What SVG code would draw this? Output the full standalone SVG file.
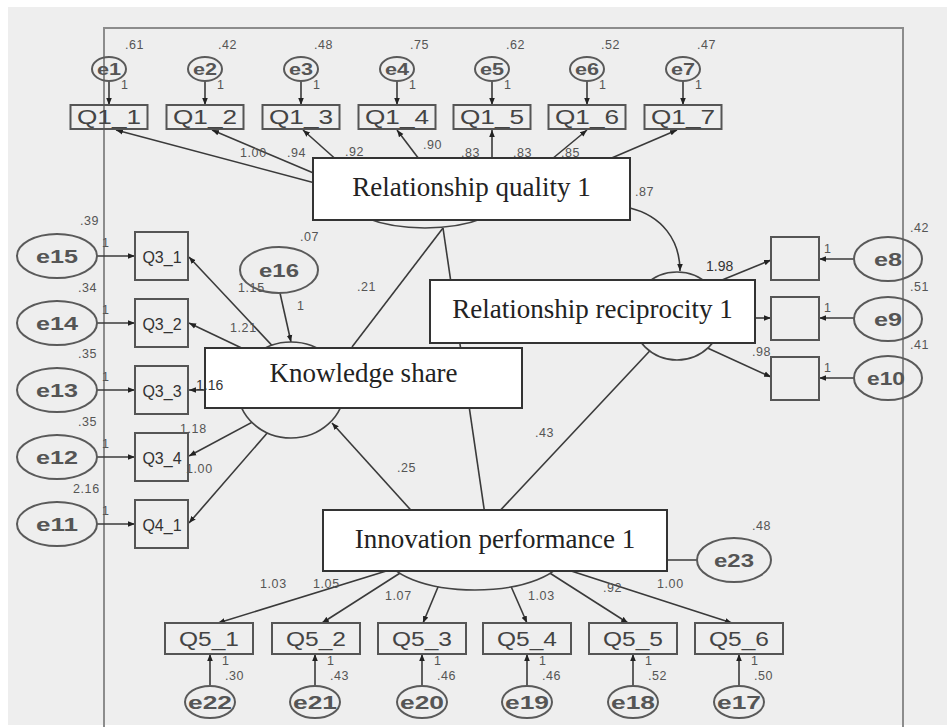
<svg xmlns="http://www.w3.org/2000/svg" width="947" height="727" viewBox="0 0 947 727">
<style>
.ln{stroke:#3a3a3a;stroke-width:1.6;fill:none}
.ar{stroke:#3a3a3a;stroke-width:1.6;fill:none;marker-end:url(#ah)}
.obs{fill:none;stroke:#555;stroke-width:2}
.err{fill:none;stroke:#5a5a5a;stroke-width:2}
.lat{fill:#eeeeee;stroke:#444;stroke-width:1.6}
.lbl{fill:#fff;stroke:#333;stroke-width:2}
.big{font-family:"Liberation Serif","Times New Roman",serif;font-size:27px;fill:#222;text-anchor:middle}
.qt{font-family:"Liberation Sans",Arial,sans-serif;font-size:20px;fill:#444;text-anchor:middle}
.qs{font-family:"Liberation Sans",Arial,sans-serif;font-size:16px;fill:#333;text-anchor:middle}
.et{font-family:"Liberation Sans",Arial,sans-serif;font-weight:bold;fill:#555;text-anchor:middle}
.n{font-family:"Liberation Sans",Arial,sans-serif;font-size:12.5px;fill:#555;letter-spacing:0.6px}
.d{font-family:"Liberation Sans",Arial,sans-serif;font-size:14px;fill:#333}
</style>
<defs>
<marker id="ah" viewBox="0 0 10 10" refX="10" refY="5" markerWidth="7" markerHeight="7" markerUnits="userSpaceOnUse" orient="auto">
<path d="M0,1 L10,5 L0,9 z" fill="#222"/>
</marker>
</defs>
<rect x="0" y="0" width="947" height="727" fill="#ffffff"/>
<rect x="8" y="7" width="939" height="718" fill="#eeeeee"/>
<path d="M104 727 V28 H903 V727" fill="none" stroke="#8c8c8c" stroke-width="2"/>

<g id="connectors">
<line class="ar" x1="109" y1="81" x2="109" y2="105"/>
<line class="ar" x1="205" y1="81" x2="205" y2="105"/>
<line class="ar" x1="301" y1="81" x2="301" y2="105"/>
<line class="ar" x1="397" y1="81" x2="397" y2="105"/>
<line class="ar" x1="492" y1="81" x2="492" y2="105"/>
<line class="ar" x1="587" y1="81" x2="587" y2="105"/>
<line class="ar" x1="683" y1="81" x2="683" y2="105"/>
<line class="ar" x1="330" y1="187" x2="116" y2="130"/>
<line class="ar" x1="330" y1="180" x2="212" y2="130"/>
<line class="ar" x1="340" y1="163" x2="303" y2="130"/>
<line class="ar" x1="422" y1="163" x2="397" y2="130"/>
<line class="ar" x1="492" y1="165" x2="492" y2="130"/>
<line class="ar" x1="546" y1="164" x2="587" y2="130"/>
<line class="ar" x1="600" y1="163" x2="677" y2="130"/>
<path class="ar" d="M630 208 C662 216 680 240 680 271"/>
<line class="ln" x1="443" y1="228" x2="352" y2="347"/>
<line class="ln" x1="443" y1="228" x2="485" y2="515"/>
<line class="ln" x1="660" y1="340" x2="495" y2="516"/>
<line class="ar" x1="418" y1="518" x2="332" y2="423"/>
<line class="ar" x1="280" y1="293" x2="291" y2="342"/>
<line class="ar" x1="280" y1="354" x2="189" y2="257"/>
<line class="ar" x1="250" y1="352" x2="189" y2="323"/>
<line class="ar" x1="215" y1="390" x2="189" y2="390"/>
<line class="ar" x1="260" y1="418" x2="189" y2="456"/>
<line class="ar" x1="275" y1="424" x2="189" y2="523"/>
<line class="ar" x1="97" y1="256" x2="135" y2="256"/>
<line class="ar" x1="97" y1="323" x2="135" y2="323"/>
<line class="ar" x1="97" y1="390" x2="135" y2="390"/>
<line class="ar" x1="97" y1="457" x2="135" y2="457"/>
<line class="ar" x1="97" y1="524" x2="135" y2="524"/>
<line class="ar" x1="700" y1="289" x2="771" y2="260"/>
<line class="ar" x1="740" y1="318" x2="771" y2="318"/>
<line class="ar" x1="690" y1="340" x2="771" y2="377"/>
<line class="ar" x1="854" y1="259" x2="819" y2="259"/>
<line class="ar" x1="854" y1="318" x2="819" y2="318"/>
<line class="ar" x1="854" y1="378" x2="819" y2="378"/>
<line class="ln" x1="660" y1="560" x2="697" y2="560"/>
<line class="ar" x1="396" y1="568" x2="218" y2="623"/>
<line class="ar" x1="408" y1="568" x2="322" y2="623"/>
<line class="ar" x1="443" y1="575" x2="423" y2="623"/>
<line class="ar" x1="506" y1="575" x2="527" y2="623"/>
<line class="ar" x1="545" y1="570" x2="628" y2="623"/>
<line class="ar" x1="565" y1="569" x2="732" y2="623"/>
<line class="ar" x1="210" y1="686" x2="210" y2="654"/>
<line class="ar" x1="315" y1="686" x2="315" y2="654"/>
<line class="ar" x1="422" y1="686" x2="422" y2="654"/>
<line class="ar" x1="527" y1="686" x2="527" y2="654"/>
<line class="ar" x1="633" y1="686" x2="633" y2="654"/>
<line class="ar" x1="739" y1="686" x2="739" y2="654"/>
</g>

<g id="e1"><ellipse class="err" cx="109" cy="69" rx="17" ry="12"/><text class="et" x="109" y="75" font-size="16" textLength="24" lengthAdjust="spacingAndGlyphs">e1</text></g>
<g id="e2"><ellipse class="err" cx="205" cy="69" rx="17" ry="12"/><text class="et" x="205" y="75" font-size="16" textLength="24" lengthAdjust="spacingAndGlyphs">e2</text></g>
<g id="e3"><ellipse class="err" cx="301" cy="69" rx="17" ry="12"/><text class="et" x="301" y="75" font-size="16" textLength="24" lengthAdjust="spacingAndGlyphs">e3</text></g>
<g id="e4"><ellipse class="err" cx="397" cy="69" rx="17" ry="12"/><text class="et" x="397" y="75" font-size="16" textLength="24" lengthAdjust="spacingAndGlyphs">e4</text></g>
<g id="e5"><ellipse class="err" cx="492" cy="69" rx="17" ry="12"/><text class="et" x="492" y="75" font-size="16" textLength="24" lengthAdjust="spacingAndGlyphs">e5</text></g>
<g id="e6"><ellipse class="err" cx="587" cy="69" rx="17" ry="12"/><text class="et" x="587" y="75" font-size="16" textLength="24" lengthAdjust="spacingAndGlyphs">e6</text></g>
<g id="e7"><ellipse class="err" cx="683" cy="69" rx="17" ry="12"/><text class="et" x="683" y="75" font-size="16" textLength="24" lengthAdjust="spacingAndGlyphs">e7</text></g>

<g id="Q1_1"><rect class="obs" x="70.5" y="105" width="77" height="24"/><text class="qt" x="109" y="124" textLength="64" lengthAdjust="spacingAndGlyphs">Q1_1</text></g>
<g id="Q1_2"><rect class="obs" x="166.5" y="105" width="77" height="24"/><text class="qt" x="205" y="124" textLength="64" lengthAdjust="spacingAndGlyphs">Q1_2</text></g>
<g id="Q1_3"><rect class="obs" x="262.5" y="105" width="77" height="24"/><text class="qt" x="301" y="124" textLength="64" lengthAdjust="spacingAndGlyphs">Q1_3</text></g>
<g id="Q1_4"><rect class="obs" x="358.5" y="105" width="77" height="24"/><text class="qt" x="397" y="124" textLength="64" lengthAdjust="spacingAndGlyphs">Q1_4</text></g>
<g id="Q1_5"><rect class="obs" x="453.5" y="105" width="77" height="24"/><text class="qt" x="492" y="124" textLength="64" lengthAdjust="spacingAndGlyphs">Q1_5</text></g>
<g id="Q1_6"><rect class="obs" x="548.5" y="105" width="77" height="24"/><text class="qt" x="587" y="124" textLength="64" lengthAdjust="spacingAndGlyphs">Q1_6</text></g>
<g id="Q1_7"><rect class="obs" x="644.5" y="105" width="77" height="24"/><text class="qt" x="683" y="124" textLength="64" lengthAdjust="spacingAndGlyphs">Q1_7</text></g>

<g id="RQ1"><ellipse class="lat" cx="425" cy="195" rx="82" ry="33"/><rect class="lbl" x="313" y="158" width="317" height="62"/><text class="big" x="471.5" y="196">Relationship quality 1</text></g>
<g id="RR1"><ellipse class="lat" cx="677" cy="316" rx="45" ry="44"/><rect class="lbl" x="430" y="280" width="325" height="63"/><text class="big" x="592.5" y="318">Relationship reciprocity 1</text></g>
<g id="e16"><ellipse class="err" cx="279" cy="270" rx="39" ry="23"/><text class="et" x="279" y="277" font-size="18" textLength="40" lengthAdjust="spacingAndGlyphs">e16</text></g>
<g id="KS"><ellipse class="lat" cx="291" cy="390" rx="53" ry="48"/><rect class="lbl" x="205" y="348" width="317" height="60"/><text class="big" x="363.5" y="382">Knowledge share</text></g>
<g id="IP1"><ellipse class="lat" cx="475" cy="555" rx="88" ry="35"/><rect class="lbl" x="323" y="510" width="344" height="61"/><text class="big" x="495" y="548">Innovation performance 1</text></g>
<g id="e23"><ellipse class="err" cx="734" cy="560" rx="37" ry="22"/><text class="et" x="734" y="567" font-size="18" textLength="40" lengthAdjust="spacingAndGlyphs">e23</text></g>

<g id="Q3_1"><rect class="obs" x="135" y="232" width="53" height="48"/><text class="qs" x="162" y="263">Q3_1</text></g>
<g id="Q3_2"><rect class="obs" x="135" y="299" width="53" height="48"/><text class="qs" x="162" y="330">Q3_2</text></g>
<g id="Q3_3"><rect class="obs" x="135" y="366" width="53" height="48"/><text class="qs" x="162" y="397">Q3_3</text></g>
<g id="Q3_4"><rect class="obs" x="135" y="433" width="53" height="48"/><text class="qs" x="162" y="464">Q3_4</text></g>
<g id="Q4_1"><rect class="obs" x="135" y="500" width="53" height="48"/><text class="qs" x="162" y="531">Q4_1</text></g>

<g id="e15"><ellipse class="err" cx="57" cy="256" rx="40" ry="22"/><text class="et" x="57" y="263" font-size="18" textLength="42" lengthAdjust="spacingAndGlyphs">e15</text></g>
<g id="e14"><ellipse class="err" cx="57" cy="323" rx="40" ry="22"/><text class="et" x="57" y="330" font-size="18" textLength="42" lengthAdjust="spacingAndGlyphs">e14</text></g>
<g id="e13"><ellipse class="err" cx="57" cy="390" rx="40" ry="22"/><text class="et" x="57" y="397" font-size="18" textLength="42" lengthAdjust="spacingAndGlyphs">e13</text></g>
<g id="e12"><ellipse class="err" cx="57" cy="457" rx="40" ry="22"/><text class="et" x="57" y="464" font-size="18" textLength="42" lengthAdjust="spacingAndGlyphs">e12</text></g>
<g id="e11"><ellipse class="err" cx="57" cy="524" rx="40" ry="22"/><text class="et" x="57" y="531" font-size="18" textLength="42" lengthAdjust="spacingAndGlyphs">e11</text></g>

<g id="R1"><rect class="obs" x="771" y="237" width="48" height="43"/></g>
<g id="R2"><rect class="obs" x="771" y="297" width="48" height="43"/></g>
<g id="R3"><rect class="obs" x="771" y="357" width="48" height="43"/></g>

<g id="e8"><ellipse class="err" cx="888" cy="259" rx="34" ry="22"/><text class="et" x="888" y="266" font-size="19" textLength="28" lengthAdjust="spacingAndGlyphs">e8</text></g>
<g id="e9"><ellipse class="err" cx="888" cy="319" rx="34" ry="22"/><text class="et" x="888" y="326" font-size="19" textLength="28" lengthAdjust="spacingAndGlyphs">e9</text></g>
<g id="e10"><ellipse class="err" cx="888" cy="378" rx="34" ry="22"/><text class="et" x="886" y="385" font-size="19" textLength="38" lengthAdjust="spacingAndGlyphs">e10</text></g>

<g id="Q5_1"><rect class="obs" x="165" y="623" width="88" height="31"/><text class="qt" x="209" y="646" textLength="60" lengthAdjust="spacingAndGlyphs">Q5_1</text></g>
<g id="Q5_2"><rect class="obs" x="272" y="623" width="88" height="31"/><text class="qt" x="316" y="646" textLength="60" lengthAdjust="spacingAndGlyphs">Q5_2</text></g>
<g id="Q5_3"><rect class="obs" x="378" y="623" width="88" height="31"/><text class="qt" x="422" y="646" textLength="60" lengthAdjust="spacingAndGlyphs">Q5_3</text></g>
<g id="Q5_4"><rect class="obs" x="483" y="623" width="88" height="31"/><text class="qt" x="527" y="646" textLength="60" lengthAdjust="spacingAndGlyphs">Q5_4</text></g>
<g id="Q5_5"><rect class="obs" x="589" y="623" width="88" height="31"/><text class="qt" x="633" y="646" textLength="60" lengthAdjust="spacingAndGlyphs">Q5_5</text></g>
<g id="Q5_6"><rect class="obs" x="695" y="623" width="88" height="31"/><text class="qt" x="739" y="646" textLength="60" lengthAdjust="spacingAndGlyphs">Q5_6</text></g>

<g id="e22"><ellipse class="err" cx="210" cy="702" rx="25" ry="16"/><text class="et" x="210" y="709" font-size="19" textLength="44" lengthAdjust="spacingAndGlyphs">e22</text></g>
<g id="e21"><ellipse class="err" cx="315" cy="702" rx="25" ry="16"/><text class="et" x="315" y="709" font-size="19" textLength="44" lengthAdjust="spacingAndGlyphs">e21</text></g>
<g id="e20"><ellipse class="err" cx="422" cy="702" rx="25" ry="16"/><text class="et" x="422" y="709" font-size="19" textLength="44" lengthAdjust="spacingAndGlyphs">e20</text></g>
<g id="e19"><ellipse class="err" cx="527" cy="702" rx="25" ry="16"/><text class="et" x="527" y="709" font-size="19" textLength="44" lengthAdjust="spacingAndGlyphs">e19</text></g>
<g id="e18"><ellipse class="err" cx="633" cy="702" rx="25" ry="16"/><text class="et" x="633" y="709" font-size="19" textLength="44" lengthAdjust="spacingAndGlyphs">e18</text></g>
<g id="e17"><ellipse class="err" cx="739" cy="702" rx="25" ry="16"/><text class="et" x="739" y="709" font-size="19" textLength="44" lengthAdjust="spacingAndGlyphs">e17</text></g>

<g id="labels">
<text class="n" x="125" y="49">.61</text><text class="n" x="218" y="49">.42</text><text class="n" x="314" y="49">.48</text><text class="n" x="410" y="49">.75</text><text class="n" x="506" y="49">.62</text><text class="n" x="601" y="49">.52</text><text class="n" x="697" y="49">.47</text>
<text class="n" x="121" y="89">1</text><text class="n" x="217" y="89">1</text><text class="n" x="313" y="89">1</text><text class="n" x="409" y="89">1</text><text class="n" x="504" y="89">1</text><text class="n" x="599" y="89">1</text><text class="n" x="695" y="89">1</text>
<text class="n" x="240" y="157">1.00</text><text class="n" x="287" y="157">.94</text><text class="n" x="345" y="156">.92</text><text class="n" x="423" y="149">.90</text><text class="n" x="461" y="157">.83</text><text class="n" x="513" y="157">.83</text><text class="n" x="561" y="157">.85</text>
<text class="n" x="635" y="196">.87</text>
<text class="n" x="80" y="225">.39</text><text class="n" x="78" y="292">.34</text><text class="n" x="78" y="358">.35</text><text class="n" x="78" y="426">.35</text><text class="n" x="73" y="493">2.16</text>
<text class="n" x="102" y="247">1</text><text class="n" x="102" y="314">1</text><text class="n" x="102" y="381">1</text><text class="n" x="102" y="448">1</text><text class="n" x="102" y="515">1</text>
<text class="n" x="238" y="292">1.15</text><text class="n" x="297" y="310">1</text><text class="n" x="300" y="241">.07</text>
<text class="n" x="230" y="332">1.21</text>
<text class="d" x="196" y="390">1.16</text>
<text class="n" x="180" y="433">1.18</text>
<text class="n" x="186" y="473">1.00</text>
<text class="n" x="357" y="291">.21</text>
<text class="n" x="397" y="472">.25</text>
<text class="n" x="535" y="437">.43</text>
<text class="d" x="706" y="271">1.98</text>
<text class="n" x="752" y="356">.98</text>
<text class="n" x="910" y="232">.42</text><text class="n" x="910" y="291">.51</text><text class="n" x="910" y="349">.41</text>
<text class="n" x="824" y="253">1</text><text class="n" x="824" y="312">1</text><text class="n" x="824" y="372">1</text>
<text class="n" x="260" y="588">1.03</text><text class="n" x="313" y="588">1.05</text><text class="n" x="385" y="600">1.07</text><text class="n" x="528" y="600">1.03</text><text class="n" x="603" y="592">.92</text><text class="n" x="657" y="588">1.00</text>
<text class="n" x="752" y="530">.48</text>
<text class="n" x="222" y="665">1</text><text class="n" x="327" y="665">1</text><text class="n" x="434" y="665">1</text><text class="n" x="539" y="665">1</text><text class="n" x="645" y="665">1</text><text class="n" x="751" y="665">1</text>
<text class="n" x="225" y="680">.30</text><text class="n" x="330" y="680">.43</text><text class="n" x="437" y="680">.46</text><text class="n" x="542" y="680">.46</text><text class="n" x="648" y="680">.52</text><text class="n" x="754" y="680">.50</text>
</g>
</svg>
